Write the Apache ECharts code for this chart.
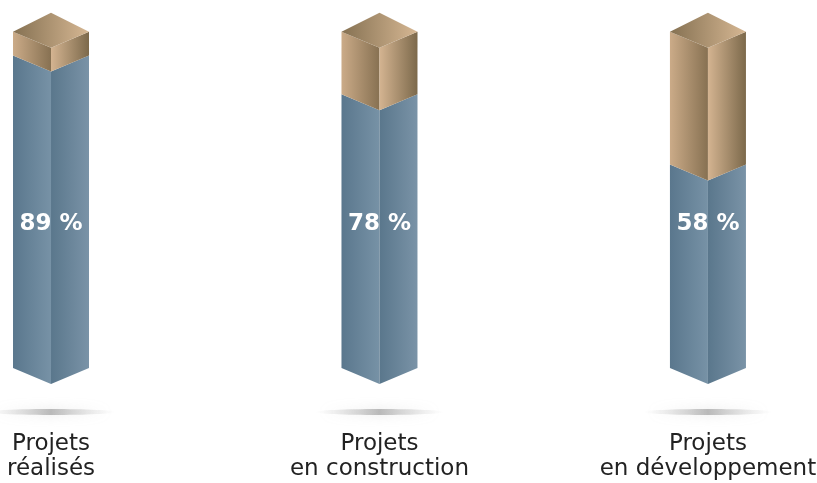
<!DOCTYPE html>
<html>
<head>
<meta charset="utf-8">
<script src="https://cdn.jsdelivr.net/npm/echarts@6/dist/echarts.min.js"></script>
<style>html,body{margin:0;padding:0;background:#fff;}#c{width:817px;height:483px;}</style>
</head>
<body>
<div id="c"></div>
<script>
var categories = ['Projets\nréalisés', 'Projets\nen construction', 'Projets\nen développement'];
var values = [89, 78, 58];
var pillarTop = [95.8, 95.8, 95.8];

var chart = echarts.init(document.getElementById('c'), null, {renderer: 'canvas'});

function lg(c1, c2) {
  return new echarts.graphic.LinearGradient(0, 0, 1, 0, [{offset: 0, color: c1}, {offset: 1, color: c2}]);
}

function renderItem(params, api) {
  var i = api.value(0);
  var v = api.value(1);
  var t = api.value(2);
  var p0 = api.coord([i, 0]);
  var pv = api.coord([i, v]);
  var pt = api.coord([i, t]);
  var cx = p0[0], yb = p0[1], yv = pv[1], yt = pt[1];
  var w = 38, d = 16, da = 19;
  var children = [];
  // shadow
  children.push({
    type: 'ellipse',
    shape: {cx: cx, cy: yb + 44, rx: 64, ry: 3},
    style: {
      fill: new echarts.graphic.LinearGradient(0, 0, 1, 0, [
        {offset: 0, color: 'rgba(170,170,170,0)'},
        {offset: 0.5, color: 'rgba(125,125,125,0.5)'},
        {offset: 1, color: 'rgba(170,170,170,0)'}
      ]),
      shadowBlur: 12, shadowColor: 'rgba(150,150,150,0.45)'
    }
  });
  // blue
  children.push({type: 'polygon', shape: {points: [[cx - w, yb], [cx, yb + d], [cx, yv + d], [cx - w, yv]]},
    style: {fill: lg('#5a778d', '#7792a6')}});
  children.push({type: 'polygon', shape: {points: [[cx, yb + d], [cx + w, yb], [cx + w, yv], [cx, yv + d]]},
    style: {fill: lg('#5a778c', '#7a93a7')}});
  // tan
  children.push({type: 'polygon', shape: {points: [[cx - w, yv], [cx, yv + d], [cx, yt + d], [cx - w, yt]]},
    style: {fill: lg('#cbab88', '#877152')}});
  children.push({type: 'polygon', shape: {points: [[cx, yv + d], [cx + w, yv], [cx + w, yt], [cx, yt + d]]},
    style: {fill: lg('#d4b491', '#7c694b')}});
  // top
  children.push({type: 'polygon', shape: {points: [[cx - w, yt], [cx, yt - da], [cx + w, yt], [cx, yt + d]]},
    style: {fill: lg('#857152', '#d6b793')}});
  // value label
  children.push({type: 'text', x: cx, y: yb - 144,
    style: {text: v + ' %', fill: '#ffffff', font: 'bold 23px "DejaVu Sans"', align: 'center', verticalAlign: 'middle'}});
  // category label
  children.push({type: 'text', x: cx, y: yb + 89,
    style: {text: categories[i], fill: '#222222', font: '23px "DejaVu Sans"', lineHeight: 25, align: 'center', verticalAlign: 'middle'}});
  return {type: 'group', children: children};
}

var data = values.map(function (v, i) { return [i, v, pillarTop[i]]; });

chart.setOption({
  animation: false,
  grid: {left: 0, right: 0, top: 17, bottom: 115},
  xAxis: {type: 'value', min: -0.1553, max: 2.332, show: false},
  yAxis: {type: 'value', min: 0, max: 100, show: false},
  series: [{type: 'custom', renderItem: renderItem, data: data, clip: false}]
});
</script>
</body>
</html>
